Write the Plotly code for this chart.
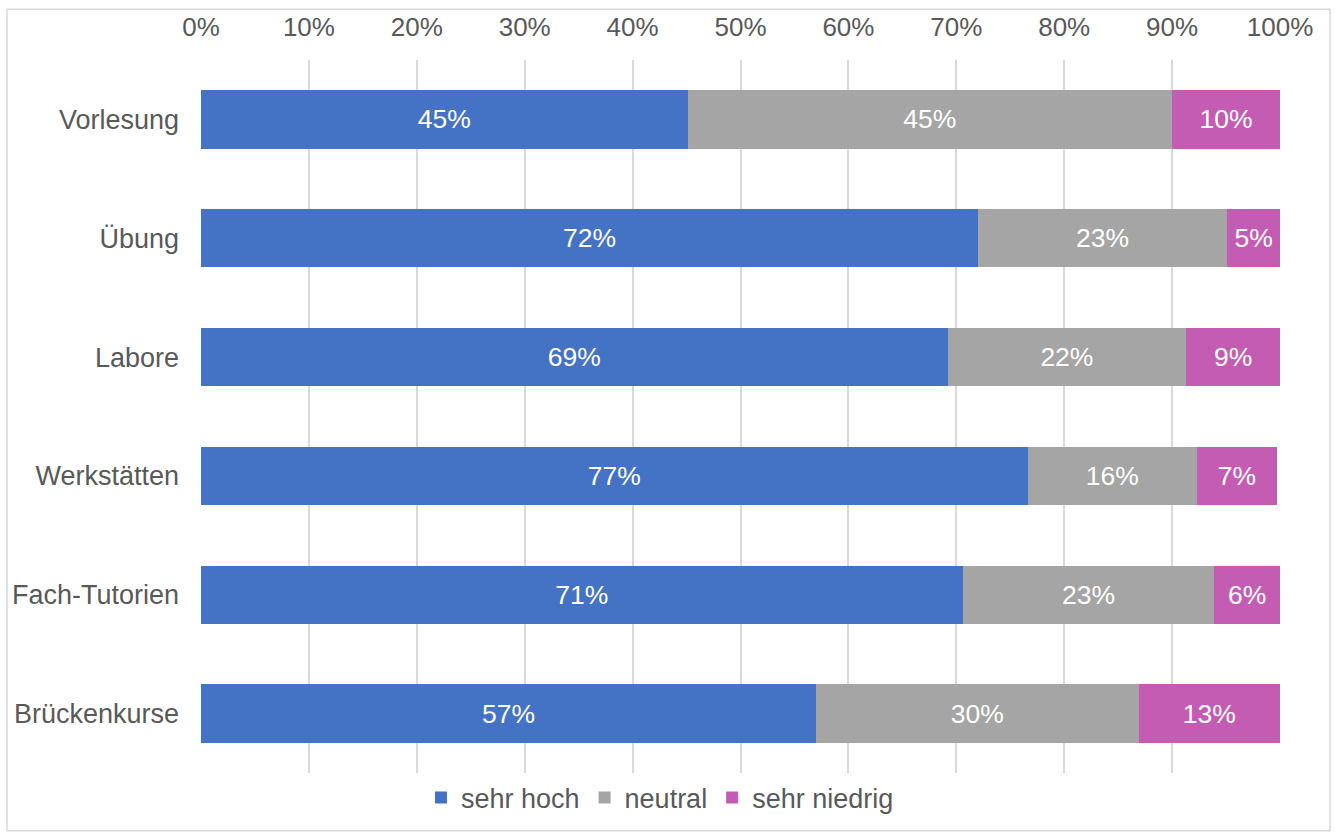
import plotly.graph_objects as go

categories = ["Vorlesung", "Übung", "Labore", "Werkstätten", "Fach-Tutorien", "Brückenkurse"]
sehr_hoch = [0.451, 0.720, 0.692, 0.766, 0.706, 0.570]
neutral = [0.449, 0.231, 0.221, 0.157, 0.233, 0.299]
sehr_niedrig = [0.100, 0.049, 0.087, 0.074, 0.061, 0.131]
series_names = ["sehr hoch", "neutral", "sehr niedrig"]
colors = ["#4472C4", "#A5A5A5", "#C55CB3"]
tick_vals = [i / 10 for i in range(11)]
tick_text = [f"{i*10}%" for i in range(11)]

W, H = 1336, 834
L, R, T, B = 201, 56, 58, 59
pw, ph = W - L - R, H - T - B
FONT = "Liberation Sans, Arial"

fig = go.Figure()
for name, vals, col in zip(series_names, [sehr_hoch, neutral, sehr_niedrig], colors):
    fig.add_trace(go.Bar(
        y=categories, x=vals, name=name, orientation="h",
        marker=dict(color=col, line=dict(width=0)),
        texttemplate="%{x:.0%}", textposition="inside", insidetextanchor="middle",
        textfont=dict(color="white", size=26.5, family=FONT),
        constraintext="none", hoverinfo="skip",
    ))

def px_x(px):
    return (px - L) / pw

def px_y(py):
    return (H - B - py) / ph

fig.update_layout(
    width=W, height=H,
    barmode="stack", bargap=0.51,
    margin=dict(l=L, r=R, t=T, b=B),
    paper_bgcolor="white", plot_bgcolor="white",
    font=dict(family=FONT, size=26, color="#595959"),
    xaxis=dict(range=[0, 1], side="top", tickvals=tick_vals, ticktext=tick_text,
               showgrid=True, gridcolor="#D9D9D9", gridwidth=1.5, zeroline=False,
               showline=False, ticks="", ticklabelstandoff=18,
               tickfont=dict(size=26, color="#595959")),
    yaxis=dict(categoryorder="array", categoryarray=categories[::-1],
               range=[-0.5, 5.5], showgrid=False, zeroline=False, showline=False,
               ticks="", ticklabelstandoff=21, tickfont=dict(size=27, color="#595959")),
    legend=dict(orientation="h", x=px_x(660), xanchor="center", y=px_y(800), yanchor="middle",
                traceorder="normal", font=dict(size=27, color="#595959"),
                itemwidth=30, bgcolor="rgba(0,0,0,0)"),
    showlegend=True,
    shapes=[dict(type="rect", xref="paper", yref="paper",
                 x0=px_x(7), x1=px_x(1330), y0=px_y(833), y1=px_y(7),
                 line=dict(color="#D9D9D9", width=1.5), fillcolor="rgba(0,0,0,0)", layer="below")],
)

fig.write_html("out.html", config={"displayModeBar": False},
               post_script="document.body.style.margin='0';document.body.style.overflow='hidden';")
